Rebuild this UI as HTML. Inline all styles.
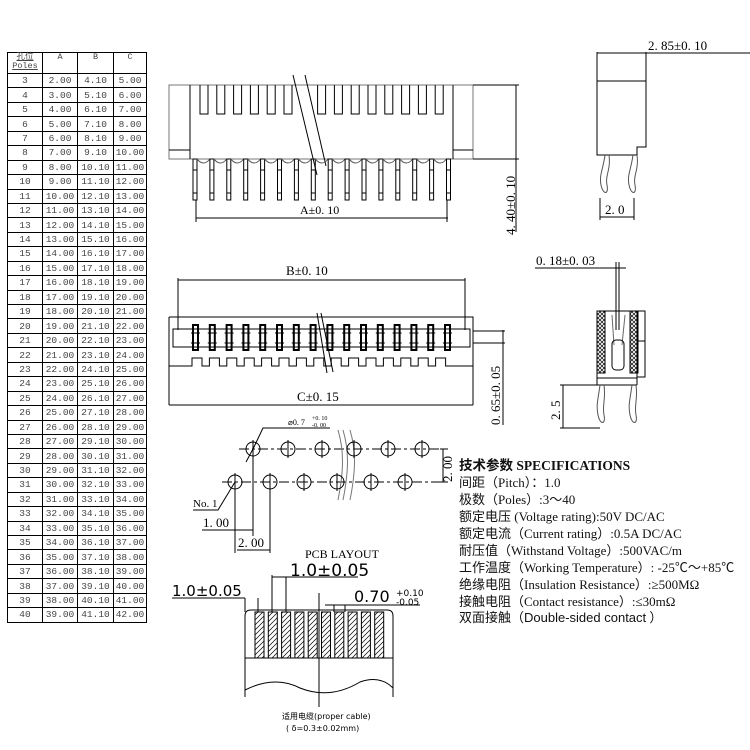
<!DOCTYPE html>
<html><head><meta charset="utf-8"><style>
body{margin:0;width:750px;height:750px;background:#fff;position:relative;overflow:hidden;font-family:"Liberation Serif","Noto Serif CJK SC",serif}
table{position:absolute;left:7px;top:52px;border-collapse:collapse;font-size:9px;color:#333}
td{border:1px solid #000;padding:0;height:13.45px;text-align:center;line-height:9px;font-family:"Liberation Mono","Noto Sans CJK SC",monospace;font-size:9.5px;color:#444}
tr.h td{height:20px;vertical-align:top;font-size:8.5px}
svg{position:absolute;left:0;top:0}
.sp{position:absolute;left:459px;font-size:13px;white-space:nowrap;color:#111;font-family:"Liberation Serif","Noto Sans CJK SC",serif}
</style></head><body>
<table>
<colgroup><col style="width:35px"><col style="width:35px"><col style="width:36px"><col style="width:33px"></colgroup>
<tr class="h"><td style="text-decoration:underline">孔位<br>Poles</td><td>A</td><td>B</td><td>C</td></tr>
<tr><td>3</td><td>2.00</td><td>4.10</td><td>5.00</td></tr>
<tr><td>4</td><td>3.00</td><td>5.10</td><td>6.00</td></tr>
<tr><td>5</td><td>4.00</td><td>6.10</td><td>7.00</td></tr>
<tr><td>6</td><td>5.00</td><td>7.10</td><td>8.00</td></tr>
<tr><td>7</td><td>6.00</td><td>8.10</td><td>9.00</td></tr>
<tr><td>8</td><td>7.00</td><td>9.10</td><td>10.00</td></tr>
<tr><td>9</td><td>8.00</td><td>10.10</td><td>11.00</td></tr>
<tr><td>10</td><td>9.00</td><td>11.10</td><td>12.00</td></tr>
<tr><td>11</td><td>10.00</td><td>12.10</td><td>13.00</td></tr>
<tr><td>12</td><td>11.00</td><td>13.10</td><td>14.00</td></tr>
<tr><td>13</td><td>12.00</td><td>14.10</td><td>15.00</td></tr>
<tr><td>14</td><td>13.00</td><td>15.10</td><td>16.00</td></tr>
<tr><td>15</td><td>14.00</td><td>16.10</td><td>17.00</td></tr>
<tr><td>16</td><td>15.00</td><td>17.10</td><td>18.00</td></tr>
<tr><td>17</td><td>16.00</td><td>18.10</td><td>19.00</td></tr>
<tr><td>18</td><td>17.00</td><td>19.10</td><td>20.00</td></tr>
<tr><td>19</td><td>18.00</td><td>20.10</td><td>21.00</td></tr>
<tr><td>20</td><td>19.00</td><td>21.10</td><td>22.00</td></tr>
<tr><td>21</td><td>20.00</td><td>22.10</td><td>23.00</td></tr>
<tr><td>22</td><td>21.00</td><td>23.10</td><td>24.00</td></tr>
<tr><td>23</td><td>22.00</td><td>24.10</td><td>25.00</td></tr>
<tr><td>24</td><td>23.00</td><td>25.10</td><td>26.00</td></tr>
<tr><td>25</td><td>24.00</td><td>26.10</td><td>27.00</td></tr>
<tr><td>26</td><td>25.00</td><td>27.10</td><td>28.00</td></tr>
<tr><td>27</td><td>26.00</td><td>28.10</td><td>29.00</td></tr>
<tr><td>28</td><td>27.00</td><td>29.10</td><td>30.00</td></tr>
<tr><td>29</td><td>28.00</td><td>30.10</td><td>31.00</td></tr>
<tr><td>30</td><td>29.00</td><td>31.10</td><td>32.00</td></tr>
<tr><td>31</td><td>30.00</td><td>32.10</td><td>33.00</td></tr>
<tr><td>32</td><td>31.00</td><td>33.10</td><td>34.00</td></tr>
<tr><td>33</td><td>32.00</td><td>34.10</td><td>35.00</td></tr>
<tr><td>34</td><td>33.00</td><td>35.10</td><td>36.00</td></tr>
<tr><td>35</td><td>34.00</td><td>36.10</td><td>37.00</td></tr>
<tr><td>36</td><td>35.00</td><td>37.10</td><td>38.00</td></tr>
<tr><td>37</td><td>36.00</td><td>38.10</td><td>39.00</td></tr>
<tr><td>38</td><td>37.00</td><td>39.10</td><td>40.00</td></tr>
<tr><td>39</td><td>38.00</td><td>40.10</td><td>41.00</td></tr>
<tr><td>40</td><td>39.00</td><td>41.10</td><td>42.00</td></tr>
</table>

<svg id="s" width="750" height="750" viewBox="0 0 750 750" fill="none" stroke="#000" stroke-width="1">
<defs>
<pattern id="hx" width="4" height="4" patternUnits="userSpaceOnUse"><path d="M0 0L4 4M4 0L0 4" stroke="#000" stroke-width="0.7"/></pattern>
<pattern id="hd" width="5" height="5" patternUnits="userSpaceOnUse"><path d="M0 5L5 0M-1 1L1 -1M4 6L6 4" stroke="#000" stroke-width="0.7"/></pattern>
</defs>
<g id="top">
<path d="M169 85H473V159H169Z" stroke="#777"/>
<path d="M190 85V159M453 85V159M169 150H190M453 150H473"/>
</g>
<path d="M293 75L317 175M305 75L326 166" stroke="#000"/>
<path d="M473 85H519M473 159H519M516 85V232"/>
<text x="0" y="0" transform="translate(515,235) rotate(-90)" font-size="13" fill="#000" stroke="none" font-family="Liberation Serif">4. 40±0. 10</text>
<path d="M196 200V222M447 200V222M196 218H448"/>
<text x="300" y="214" font-size="12" fill="#000" stroke="none">A±0. 10</text>

<path d="M597 81H646V147H637V155H597Z"/>
<path d="M597 81V52M646 81V52M597 53H750"/>
<text x="648" y="50" font-size="13" fill="#000" stroke="none">2. 85±0. 10</text>
<path d="M605 155C603 170 599 175 601 185C603 195 609 195 607 185C605 175 611 170 609 155M633 155C631 170 627 175 629 185C631 195 637 195 635 185C633 175 639 170 637 155" stroke="#555"/>
<path d="M600 198V220M634 198V220M600 217H634"/>
<text x="605" y="214" font-size="13" fill="#000" stroke="none">2. 0</text>

<text x="536" y="265" font-size="13" fill="#000" stroke="none">0. 18±0. 03</text>
<path d="M535 268H626M616 262V330M619 262V330"/>
<rect x="597" y="311" width="8" height="62" fill="url(#hx)"/>
<rect x="630" y="311" width="8" height="62" fill="url(#hx)"/>
<path d="M597 311H637V378H597ZM637 311H645V341H637M637 341H645V377H637M605 311V373M630 311V373"/>
<path d="M612 315L614 345M625 315L622 345" stroke="#666"/>
<rect x="612" y="340" width="12" height="30" rx="4"/>
<path d="M597 385H637M597 378V385M637 378V385"/>
<path d="M600 385C598 400 596 405 598 415C600 425 606 425 604 415C602 405 606 400 604 385M632 385C630 400 628 405 630 415C632 425 638 425 636 415C634 405 638 400 636 385" stroke="#555"/>
<path d="M560 385H597M560 428H600M563 385V428"/>
<text transform="translate(560,420) rotate(-90)" font-size="13" fill="#000" stroke="none">2. 5</text>

<path d="M169 317H473V405M169 317V405"/>
<rect x="173" y="329" width="297" height="18"/>
<path d="M178 278V330M465 278V330M178 280H465"/>
<text x="286" y="275" font-size="13" fill="#000" stroke="none">B±0. 10</text>
<path d="M169 405H473"/>
<text x="297" y="401" font-size="13" fill="#000" stroke="none">C±0. 15</text>
<path d="M473 331H505M473 343H505M503 330V425"/>
<text transform="translate(500,425) rotate(-90)" font-size="13" fill="#000" stroke="none">0. 65±0. 05</text>
<path d="M317 313L327 373M321 313L333 372"/>

<path d="M239 449H440M222 482H440" stroke-dasharray="10,3,3,3"/>
<path d="M440 449H448M440 482H448M443 449V482"/>
<text transform="translate(452,482) rotate(-90)" font-size="13" fill="#000" stroke="none">2. 00</text>
<path d="M253 449L263 428H330M253 449L246 462"/>
<text x="288" y="425" font-size="8" fill="#000" stroke="none">⌀0. 7</text>
<text x="312" y="420" font-size="6" fill="#000" stroke="none">+0. 10</text>
<text x="312" y="427" font-size="6" fill="#000" stroke="none">-0. 00</text>
<path d="M235 482L218 510H193"/>
<text x="193" y="507" font-size="11" fill="#000" stroke="none">No. 1</text>
<path d="M235 490V553M253 456V536M270 490V553M202 530H253M237 550H270"/>
<text x="203" y="527" font-size="13" fill="#000" stroke="none">1. 00</text>
<text x="238" y="547" font-size="13" fill="#000" stroke="none">2. 00</text>
<path d="M338 430C344 450 344 470 338 500M343 430C349 450 349 470 343 500M350 430C356 450 356 470 350 500" stroke="#777"/>
<text x="305" y="558" font-size="12" fill="#000" stroke="none">PCB LAYOUT</text>

<path d="M245 697V616Q245 610 251 610H387Q393 610 393 616V697M245 658H393M245 690Q275 675 300 688Q330 700 360 682Q380 675 393 688"/>
<path d="M319 593V707"/>
<path d="M272 575V612M286 577V612M272 577H358M172 598H245M245 598V612M258 598V612M325 605H420M334 605V612M345 605V612"/>
<text x="290" y="576" font-size="17" fill="#000" stroke="none" font-family="DejaVu Sans">1.0±0.05</text>
<text x="172" y="596" font-size="15" fill="#000" stroke="none" font-family="DejaVu Sans">1.0±0.05</text>
<text x="354" y="602" font-size="16" fill="#000" stroke="none" font-family="DejaVu Sans">0.70</text>
<text x="396" y="596" font-size="9" fill="#000" stroke="none" font-family="DejaVu Sans">+0.10</text>
<text x="396" y="605" font-size="9" fill="#000" stroke="none" font-family="DejaVu Sans">-0.05</text>
<text x="282" y="719" font-size="8" fill="#000" stroke="none" font-family="DejaVu Sans,Noto Sans CJK SC">适用电缆(proper cable)</text>
<text x="286" y="731" font-size="8" fill="#000" stroke="none" font-family="DejaVu Sans,Noto Sans CJK SC">( δ=0.3±0.02mm)</text>
</svg>

<div class="sp" style="top:454px;font-weight:bold;font-size:13.5px">技术参数 SPECIFICATIONS</div>
<div class="sp" style="top:472px">间距（Pitch）：1.0</div>
<div class="sp" style="top:489px">极数（Poles）:3～40</div>
<div class="sp" style="top:506px">额定电压 (Voltage rating):50V DC/AC</div>
<div class="sp" style="top:523px">额定电流（Current rating）:0.5A DC/AC</div>
<div class="sp" style="top:540px">耐压值（Withstand Voltage）:500VAC/m</div>
<div class="sp" style="top:557px">工作温度（Working Temperature）: -25℃～+85℃</div>
<div class="sp" style="top:574px">绝缘电阻（Insulation Resistance）:≥500MΩ</div>
<div class="sp" style="top:591px">接触电阻（Contact resistance）:≤30mΩ</div>
<div class="sp" style="top:607px">双面接触（<span style="font-family:'Liberation Sans',sans-serif">Double-sided contact</span> ）</div>

<script>
var s=document.getElementById('s'),NS='http://www.w3.org/2000/svg';
function el(t,a){var e=document.createElementNS(NS,t);for(var k in a)e.setAttribute(k,a[k]);s.appendChild(e);return e;}
for(var k=0;k<15;k++){if(k==6)continue;var x=200+16.8*k;el('path',{d:'M'+x+' 85V114H'+(x+8)+'V85'});}
for(var i=0;i<16;i++){var x=193+16.9*i;el('rect',{x:x,y:159,width:4,height:41});
 el('path',{d:'M'+x+' 170h4M'+x+' 193h4'});
 if(i<15)el('path',{d:'M'+(x+4)+' 159q6.5 8 12.9 0',stroke:'#555'});}
for(var i=0;i<16;i++){var x=193+16.8*i;el('rect',{x:x,y:325,width:5,height:25,stroke:'#000','stroke-width':2});
 el('path',{d:'M'+(x-2)+' 333h9M'+(x-2)+' 343h9'});}
var d='M169 366H192';for(var i=0;i<15;i++){var x=192+17.4*i;d+='V358H'+(x+10)+'V366H'+(x+17.4);}d+='H473';
el('path',{d:d});
var up=[253,288,322,354,388,422],lo=[235,270,304,337,371,405];
up.forEach(function(x){el('circle',{cx:x,cy:449,r:7});el('path',{d:'M'+x+' 440V458'});});
lo.forEach(function(x){el('circle',{cx:x,cy:482,r:7});el('path',{d:'M'+x+' 473V491'});});
for(var i=0;i<10;i++){var x=255+13.3*i;el('rect',{x:x,y:612,width:9,height:46,fill:'url(#hd)'});}
</script>
</body></html>
